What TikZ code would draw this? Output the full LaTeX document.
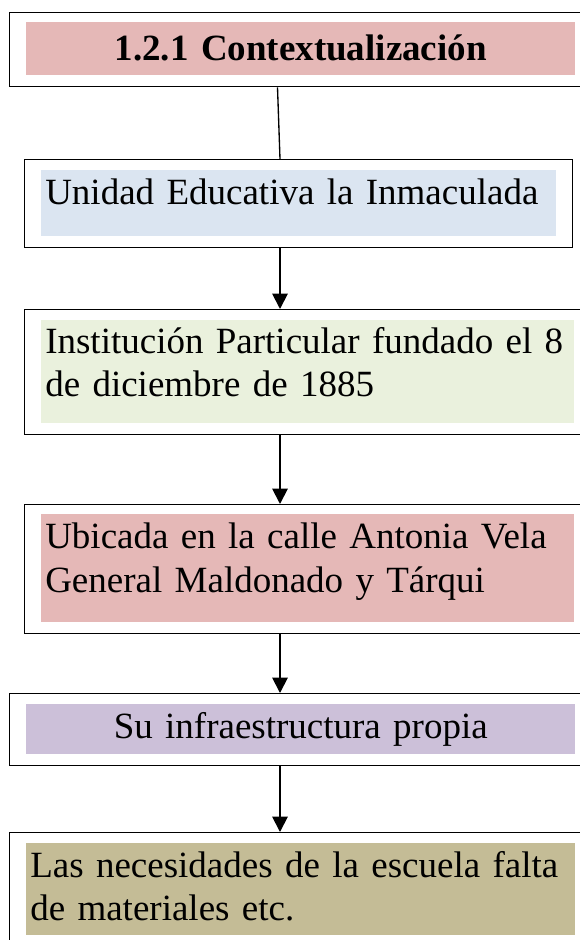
\documentclass[tikz,border=0pt]{standalone}
\usepackage{fontspec}
\setmainfont{Liberation Serif}
\usetikzlibrary{arrows.meta}
\definecolor{rosa}{HTML}{E5B8B7}
\definecolor{celeste}{HTML}{DBE5F1}
\definecolor{verde}{HTML}{EAF1DD}
\definecolor{lila}{HTML}{CCC0D9}
\definecolor{arena}{HTML}{C4BC96}
\begin{document}
\begin{tikzpicture}[x=0.75pt, y=-0.75pt,
  boxframe/.style={draw, line width=1pt, anchor=north west, inner sep=0pt},
  boxtext/.style={anchor=north west, inner xsep=3pt, inner ysep=0pt, font=\fontsize{27.75}{32.5}\selectfont},
  link/.style={line width=1.4pt, -{Triangle[width=11.5pt,length=11.5pt]}}]
\useasboundingbox (0,0) rectangle (580,940);
% outer frames
\node[boxframe, minimum width=430pt, minimum height=55.5pt] (fr0) at (8.7,12){};
\node[boxframe, minimum width=411pt, minimum height=66pt] (fr1) at (24,159){};
\node[boxframe, minimum width=420pt, minimum height=93.75pt] (fr2) at (24,309){};
\node[boxframe, minimum width=420pt, minimum height=96.75pt] (fr3) at (24,504){};
\node[boxframe, minimum width=430pt, minimum height=54pt] (fr4) at (8.7,693){};
\node[boxframe, minimum width=430pt, minimum height=90pt] (fr5) at (8.7,832){};
% coloured texts
\node[boxtext, fill=rosa, text width=405.75pt, align=center, text height=28.5pt, text depth=11.25pt] (tx0) at (26,22){\textbf{1.2.1 Contextualización}};
\node[boxtext, fill=celeste, text width=380.25pt, align=left, text height=25.5pt, text depth=24pt] (tx1) at (41,170){Unidad Educativa la Inmaculada};
\node[boxtext, fill=verde, text width=393.75pt, align=left, text height=25pt, text depth=52.25pt] (tx2) at (41,320){Institución Particular fundado el 8\\de diciembre de 1885};
\node[boxtext, fill=rosa, text width=393.75pt, align=left, text height=26pt, text depth=55pt] (tx3) at (41,514){Ubicada en la calle Antonia Vela\\General Maldonado y Tárqui};
\node[boxtext, fill=lila, text width=405.75pt, align=center, text height=25.5pt, text depth=12pt] (tx4) at (26,704){Su infraestructura propia};
\node[boxtext, fill=arena, text width=405.75pt, align=left, text height=25.5pt, text depth=43.5pt] (tx5) at (26,843){Las necesidades de la escuela falta\\de materiales etc.};
% connectors
\coordinate (a0) at (277.5,0);
\coordinate (a1) at (280,0);
\draw[line width=1pt] (fr0.south -| a0) -- (fr1.north -| a1);
\foreach \i/\j in {1/2,2/3,3/4,4/5}
  \draw[link] (fr\i.south -| a1) -- (fr\j.north -| a1);
\end{tikzpicture}
\end{document}
